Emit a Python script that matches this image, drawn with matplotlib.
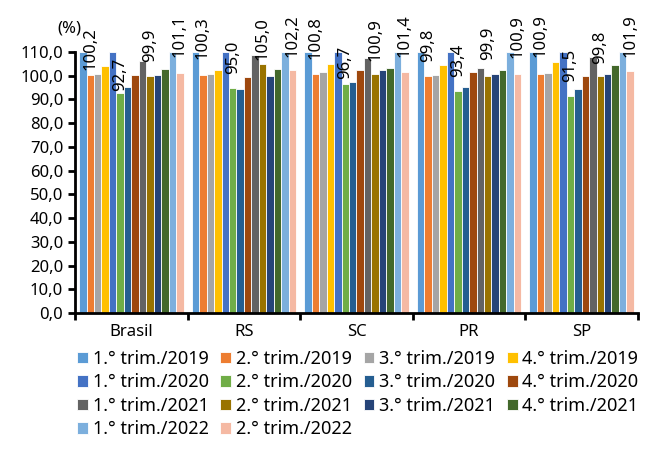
import numpy as np
import matplotlib.pyplot as plt

plt.rcParams['font.family'] = ['Noto Sans', 'DejaVu Sans']

# Dados
regioes = ["Brasil", "RS", "SC", "PR", "SP"]
trimestres = ["1.° trim./2019", "2.° trim./2019", "3.° trim./2019", "4.° trim./2019",
              "1.° trim./2020", "2.° trim./2020", "3.° trim./2020", "4.° trim./2020",
              "1.° trim./2021", "2.° trim./2021", "3.° trim./2021", "4.° trim./2021",
              "1.° trim./2022", "2.° trim./2022"]
cores = ["#5B9BD5", "#ED7D31", "#A5A5A5", "#FFC000",
         "#4472C4", "#70AD47", "#255E91", "#9E480E",
         "#636363", "#997300", "#264478", "#43682B",
         "#7CAFDD", "#F5B9A3"]

# uma linha por trimestre, uma coluna por região (Brasil, RS, SC, PR, SP)
valores = np.array([
    [110.0, 110.0, 110.0, 110.0, 110.0],
    [100.2, 100.3, 100.8, 99.8, 100.9],
    [100.7, 100.8, 101.6, 100.5, 101.1],
    [103.9, 102.4, 104.8, 104.4, 105.6],
    [110.0, 110.0, 110.0, 110.0, 110.0],
    [92.7, 95.0, 96.7, 93.4, 91.5],
    [95.2, 94.4, 97.3, 95.2, 94.4],
    [100.4, 99.4, 102.5, 101.4, 100.0],
    [106.4, 108.6, 107.6, 103.1, 107.9],
    [99.9, 105.0, 100.9, 99.9, 99.8],
    [100.5, 100.0, 102.5, 100.8, 100.7],
    [102.9, 102.8, 103.1, 102.2, 104.5],
    [110.0, 110.0, 110.0, 110.0, 110.0],
    [101.1, 102.2, 101.4, 100.9, 101.9],
])
rotulados = [1, 5, 9, 13]  # 2.° trimestres recebem rótulo
# altura (eixo y) onde começa cada rótulo, como posicionado no original
base_rotulo = np.array([
    [102.5, 107.1, 107.1, 105.8, 107.9],
    [93.7, 100.8, 98.7, 99.5, 97.4],
    [105.8, 106.6, 106.2, 106.6, 105.0],
    [107.9, 107.9, 107.9, 107.5, 107.9],
])

fig = plt.figure(figsize=(6.49, 4.54), dpi=100)
ax = fig.add_axes([0.1156, 0.3106, 0.8674, 0.5749])

n = len(trimestres)
largura = 0.927 / n
x = np.arange(len(regioes))
handles = []
for i in range(n):
    pos = x - 0.927 / 2 + largura * (i + 0.5)
    barras = ax.bar(pos, valores[i], width=largura, color=cores[i],
                    edgecolor="white", linewidth=0.6, label=trimestres[i])
    handles.append(barras)
    if i in rotulados:
        yb = base_rotulo[rotulados.index(i)]
        for p, v, b in zip(pos, valores[i], yb):
            ax.text(p, b, f"{v:.1f}".replace(".", ","), rotation=90,
                    ha="center", va="bottom", fontsize=12, clip_on=False)

ax.set_ylim(0, 110)
ax.set_xlim(-0.5, len(regioes) - 0.5)
ax.set_yticks(np.arange(0, 111, 10))
ax.set_yticklabels([f"{v:.1f}".replace(".", ",") for v in np.arange(0, 111, 10)], fontsize=12)
ax.set_xticks(x)
ax.set_xticklabels(regioes, fontsize=12)
ax.set_xticks(np.arange(-0.5, len(regioes)), minor=True)
ax.tick_params(axis="x", which="major", length=0, pad=8)
ax.tick_params(axis="x", which="minor", length=5, width=2, direction="out")
ax.tick_params(axis="y", length=5, width=2, direction="out")
for s in ["top", "right"]:
    ax.spines[s].set_visible(False)
for s in ["left", "bottom"]:
    ax.spines[s].set_linewidth(2)

fig.text(0.088, 0.955, "(%)", fontsize=12, va="top")

# legenda preenchida por linhas
ordem = [0, 4, 8, 12, 1, 5, 9, 13, 2, 6, 10, 3, 7, 11]
fig.legend([handles[k] for k in ordem], [trimestres[k] for k in ordem],
           loc="upper left", bbox_to_anchor=(0.108, 0.245), ncol=4, frameon=False,
           fontsize=13, handlelength=0.6, handleheight=0.6, handletextpad=0.25,
           columnspacing=0.65, labelspacing=0.3, borderaxespad=0)

fig.savefig("out.png", dpi=100)
